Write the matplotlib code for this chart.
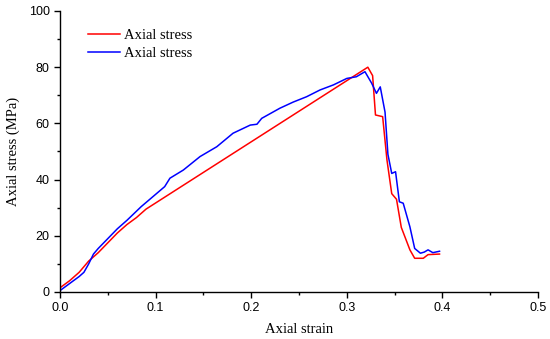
import matplotlib
matplotlib.use("Agg")
import matplotlib.pyplot as plt
from matplotlib.ticker import MultipleLocator

# ── Data ─────────────────────────────────────────────────────────────────────
red_strain = [0.0, 0.01, 0.02, 0.03, 0.04, 0.05, 0.06, 0.07, 0.08, 0.09,
              0.322, 0.327, 0.330, 0.3375, 0.342, 0.347, 0.352, 0.357,
              0.366, 0.371, 0.380, 0.385, 0.397]
red_stress = [1.5, 4.0, 7.0, 11.0, 14.0, 17.5, 21.0, 24.0, 26.5, 29.5,
              80.0, 77.0, 63.0, 62.4, 47.0, 35.0, 33.0, 23.0,
              15.0, 12.0, 12.0, 13.3, 13.5]

blue_strain = [0.0, 0.01, 0.02, 0.025, 0.03, 0.035, 0.04, 0.05, 0.06, 0.07,
               0.085, 0.1095, 0.115, 0.129, 0.1465, 0.164, 0.181, 0.199,
               0.206, 0.211, 0.230, 0.244, 0.258, 0.272, 0.286, 0.300,
               0.310, 0.319, 0.326, 0.331, 0.335, 0.340, 0.343, 0.347,
               0.351, 0.355, 0.359, 0.366, 0.371, 0.377, 0.381, 0.385,
               0.390, 0.397]
blue_stress = [0.5, 3.0, 5.5, 7.0, 10.0, 13.5, 15.5, 19.0, 22.5, 25.5,
               30.4, 37.5, 40.5, 43.4, 48.2, 51.7, 56.5, 59.4,
               59.7, 61.8, 65.4, 67.6, 69.5, 71.9, 73.7, 76.0,
               76.6, 78.4, 74.3, 70.7, 73.0, 64.0, 49.0, 42.2,
               42.8, 32.1, 31.6, 23.2, 15.5, 13.8, 14.2, 15.0,
               14.0, 14.5]

labels = ["Axial stress", "Axial stress"]

# ── Figure ───────────────────────────────────────────────────────────────────
fig = plt.figure(figsize=(5.5, 3.39), dpi=100)
ax = fig.add_axes([60 / 550, 47 / 339, 478 / 550, 281 / 339])

ax.plot(red_strain, red_stress, color="#ff0000", lw=1.1, label=labels[0])
ax.plot(blue_strain, blue_stress, color="#0000ff", lw=1.1, label=labels[1])

ax.set_xlim(0, 0.5)
ax.set_ylim(0, 100)
ax.xaxis.set_major_locator(MultipleLocator(0.1))
ax.xaxis.set_minor_locator(MultipleLocator(0.05))
ax.yaxis.set_major_locator(MultipleLocator(20))
ax.yaxis.set_minor_locator(MultipleLocator(10))
ax.set_xticklabels([f"{v:.1f}" for v in ax.get_xticks()])

for side in ("top", "right"):
    ax.spines[side].set_visible(False)
for side in ("left", "bottom"):
    ax.spines[side].set_linewidth(1.0)

ax.tick_params(which="major", direction="out", length=4, width=1,
               labelsize=9)
ax.tick_params(which="minor", direction="out", length=2.5, width=1)
for lab in ax.get_xticklabels() + ax.get_yticklabels():
    lab.set_family("Liberation Sans")

ax.set_xlabel("Axial strain", family="Liberation Serif", fontsize=10.5,
              labelpad=6)
ax.set_ylabel("Axial stress (MPa)", family="Liberation Serif", fontsize=10.5,
              labelpad=6)

ax.legend(loc="upper left", bbox_to_anchor=(0.046, 0.957), frameon=False,
          prop={"family": "Liberation Serif", "size": 10.5},
          handlelength=2.2, handletextpad=0.28, labelspacing=0.3,
          borderaxespad=0)

fig.savefig("out.png", dpi=100)
